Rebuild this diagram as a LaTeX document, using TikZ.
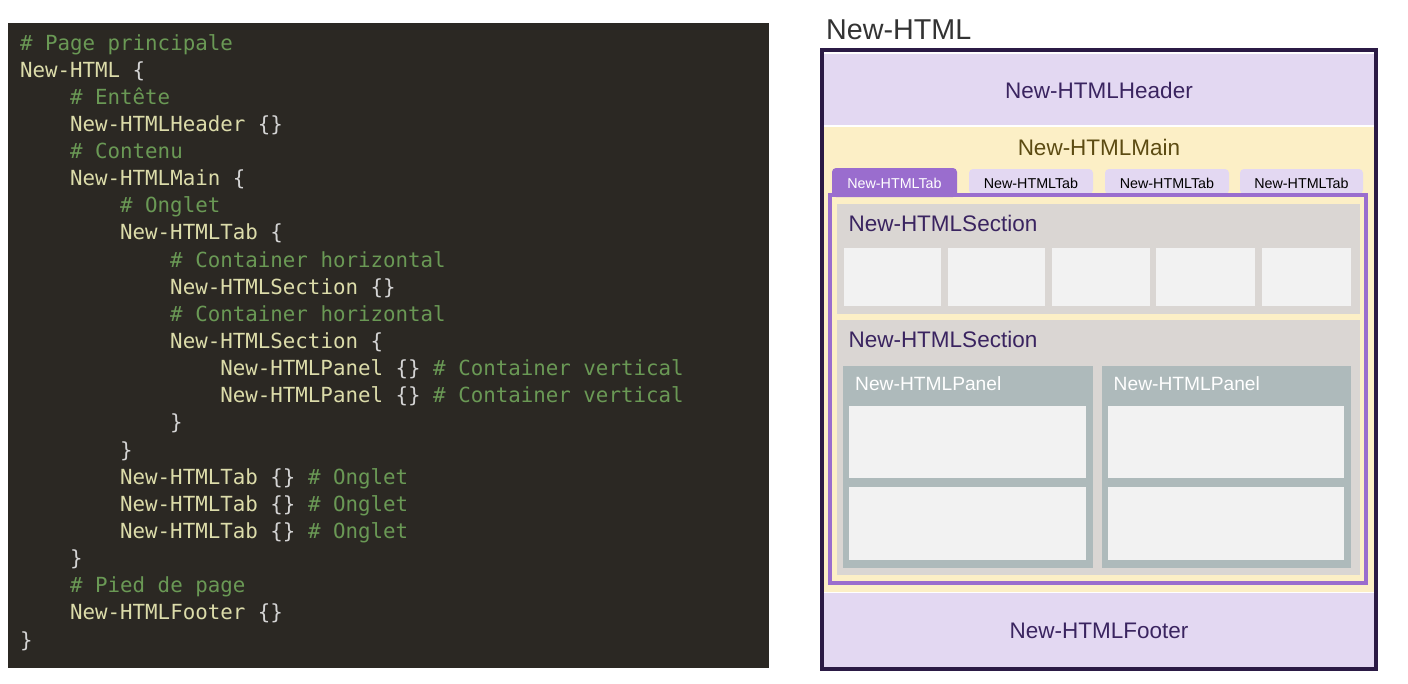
\documentclass[tikz,border=0pt]{standalone}
\usepackage{fontspec}
\setmainfont{Liberation Sans}
\newfontfamily\codefont{DejaVu Sans Mono}
\newfontfamily\uifont{Liberation Sans}
\definecolor{codebg}{HTML}{2B2823}
\definecolor{cg}{HTML}{6A9955}
\definecolor{cy}{HTML}{DCDCAA}
\definecolor{cb}{HTML}{D4D4D4}
\definecolor{frame}{HTML}{2B1A45}
\definecolor{lav}{HTML}{E3D8F2}
\definecolor{cream}{HTML}{FCEFC6}
\definecolor{purp}{HTML}{9A6DCE}
\definecolor{secgray}{HTML}{DAD6D3}
\definecolor{boxlight}{HTML}{F2F2F2}
\definecolor{panelgray}{HTML}{AEBABB}
\definecolor{dpurp}{HTML}{3A2460}
\definecolor{olive}{HTML}{5C4B12}
\definecolor{titlegray}{HTML}{333333}
\newcommand{\cl}[4]{\node[codetxt] (#1) at ({20+#3*12.52},{50+#2*27.14}) {#4};}
\newcommand{\cmt}[1]{\textcolor{cg}{\##1}}
\newcommand{\bro}{\textcolor{cb}{\{}}
\newcommand{\brc}{\textcolor{cb}{\}}}
\newcommand{\brp}{\textcolor{cb}{\{\}}}
\begin{document}
\begin{tikzpicture}[x=1pt,y=-1pt,
  codetxt/.style={anchor=base west, inner sep=0, outer sep=0, font=\codefont\fontsize{20.8}{25}\selectfont, text=cy},
  bigtxt/.style={anchor=base, inner sep=0, font=\uifont\fontsize{22.5}{27}\selectfont, text=dpurp},
  sectxt/.style={anchor=base west, inner sep=0, font=\uifont\fontsize{22.5}{27}\selectfont, text=dpurp},
  paneltxt/.style={anchor=base west, inner sep=0, font=\uifont\fontsize{19.2}{23}\selectfont, text=white},
  tabtxt/.style={anchor=base, inner sep=0, font=\uifont\fontsize{14.3}{17}\selectfont, text=black},
  region/.style={inner sep=0, outer sep=0},
]
\useasboundingbox[fill=white] (0,0) rectangle (1408,683);
% ---------- code block ----------
\fill[codebg] (8.3,23) rectangle (768.5,668);
\cl{l0}{0}{0}{\cmt{ Page principale}}
\cl{l1}{1}{0}{New-HTML \bro}
\cl{l2}{2}{4}{\cmt{ Entête}}
\cl{l3}{3}{4}{New-HTMLHeader \brp}
\cl{l4}{4}{4}{\cmt{ Contenu}}
\cl{l5}{5}{4}{New-HTMLMain \bro}
\cl{l6}{6}{8}{\cmt{ Onglet}}
\cl{l7}{7}{8}{New-HTMLTab \bro}
\cl{l8}{8}{12}{\cmt{ Container horizontal}}
\cl{l9}{9}{12}{New-HTMLSection \brp}
\cl{l10}{10}{12}{\cmt{ Container horizontal}}
\cl{l11}{11}{12}{New-HTMLSection \bro}
\cl{l12}{12}{16}{New-HTMLPanel \brp{} \cmt{ Container vertical}}
\cl{l13}{13}{16}{New-HTMLPanel \brp{} \cmt{ Container vertical}}
\cl{l14}{14}{12}{\brc}
\cl{l15}{15}{8}{\brc}
\cl{l16}{16}{8}{New-HTMLTab \brp{} \cmt{ Onglet}}
\cl{l17}{17}{8}{New-HTMLTab \brp{} \cmt{ Onglet}}
\cl{l18}{18}{8}{New-HTMLTab \brp{} \cmt{ Onglet}}
\cl{l19}{19}{4}{\brc}
\cl{l20}{20}{4}{\cmt{ Pied de page}}
\cl{l21}{21}{4}{New-HTMLFooter \brp}
\cl{l22}{22}{0}{\brc}
% ---------- layout diagram ----------
\node[anchor=base west, inner sep=0, font=\uifont\fontsize{28.7}{34}\selectfont, text=titlegray] (title) at (826,39.5) {New-HTML};
% interior
\fill[white] (821.5,50) rectangle (1375.5,669);
\fill[lav] (824,53.5) rectangle (1373.5,125);
\fill[cream] (824,127) rectangle (1373.5,591.5);
\fill[lav] (824,593) rectangle (1373.5,667);
\node[bigtxt] (header) at (1099,98) {New-HTMLHeader};
\node[bigtxt, text=olive] (main) at (1099,155) {New-HTMLMain};
\node[bigtxt] (footer) at (1099,638) {New-HTMLFooter};
% tabs
\fill[purp, rounded corners=4pt] (832,197) -- (832,168) -- (957,168) -- (957,197) -- cycle;
\fill[lav, rounded corners=4pt] (969,194) -- (969,169) -- (1093,169) -- (1093,194) -- cycle;
\fill[lav, rounded corners=4pt] (1105,194) -- (1105,169) -- (1229,169) -- (1229,194) -- cycle;
\fill[lav, rounded corners=4pt] (1240,194) -- (1240,169) -- (1363,169) -- (1363,194) -- cycle;
\node[tabtxt, text=white] (tab1) at (894.5,188.3) {New-HTMLTab};
\node[tabtxt] (tab2) at (1031,188.3) {New-HTMLTab};
\node[tabtxt] (tab3) at (1167,188.3) {New-HTMLTab};
\node[tabtxt] (tab4) at (1301.5,188.3) {New-HTMLTab};
% tab content frame
\draw[purp, line width=4pt] (830,195) rectangle (1366,583);
% section 1
\fill[secgray] (836.5,204) rectangle (1359.5,313.5);
\node[sectxt] (sec1) at (848.3,231.5) {New-HTMLSection};
\fill[boxlight] (843.5,248) rectangle (941.4,306);
\fill[boxlight] (947.9,248) rectangle (1045.4,306);
\fill[boxlight] (1052.3,248) rectangle (1150.2,306);
\fill[boxlight] (1155.9,248) rectangle (1254.6,306);
\fill[boxlight] (1261.9,248) rectangle (1351,306);
% section 2
\fill[secgray] (836.5,319.5) rectangle (1359.5,575);
\node[sectxt] (sec2) at (848.3,347) {New-HTMLSection};
% panels
\fill[panelgray] (843.3,366) rectangle (1092.7,568.3);
\fill[panelgray] (1101.7,366) rectangle (1351,568.3);
\node[paneltxt] (pan1) at (855,390.7) {New-HTMLPanel};
\node[paneltxt] (pan2) at (1113.5,390.7) {New-HTMLPanel};
\fill[boxlight] (849.3,405.7) rectangle (1085.7,478.3);
\fill[boxlight] (849.3,487.3) rectangle (1085.7,560);
\fill[boxlight] (1107.5,405.7) rectangle (1343.5,478.3);
\fill[boxlight] (1107.5,487.3) rectangle (1343.5,560);
% outer frame
\draw[frame, line width=4pt] (821.5,50) rectangle (1375.5,669);
\end{tikzpicture}
\end{document}
